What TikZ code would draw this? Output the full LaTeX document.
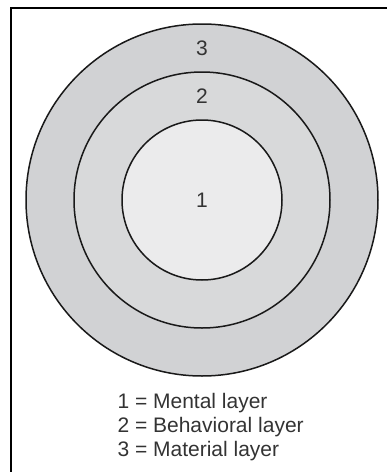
\documentclass[tikz,border=0pt]{standalone}
\usepackage{fontspec}
\setmainfont{Liberation Sans}
\usepackage{tikz}
\usetikzlibrary{positioning}

\definecolor{ringgray}{HTML}{D1D2D4}
\definecolor{midgray}{HTML}{D8D9DA}
\definecolor{coregray}{HTML}{EBEBEC}
\definecolor{inkgray}{HTML}{333333}

\begin{document}
\begin{tikzpicture}[x=1pt, y=-1pt,
  ring/.style={draw=black!90, circle, line width=1.5pt, inner sep=0pt},
  num/.style={font=\fontsize{21}{24}\selectfont, text=inkgray},
  legend/.style={font=\fontsize{21}{24}\selectfont, text=inkgray, anchor=base west},
  frame/.style={line width=2pt}]

\useasboundingbox (0,0) rectangle (387,472);

% --- Frame ---
\coordinate (fbot) at (11,472);
\coordinate (fcorner) at (11,7.5);
\coordinate (fright) at (387,7.5);
\draw[frame] (fbot) -- (fcorner) -- (fright);

% --- Layers ---
\node[ring, fill=ringgray, minimum size=352pt] (material) at (202,200) {};
\node[ring, fill=midgray, minimum size=256pt] (behavioral) at (202,200) {};
\node[ring, fill=coregray, minimum size=160pt] (mental) at (202,200) {};

% --- Numbers ---
\node[num] (n1) at (202,200) {1};
\node[num] (n2) at (202,96) {2};
\node[num] (n3) at (202,48) {3};

% --- Legend ---
\node[legend] (key1) at (114,408) {1 = Mental layer};
\node[legend] (key2) at (114,432) {2 = Behavioral layer};
\node[legend] (key3) at (114,456) {3 = Material layer};

\end{tikzpicture}
\end{document}
